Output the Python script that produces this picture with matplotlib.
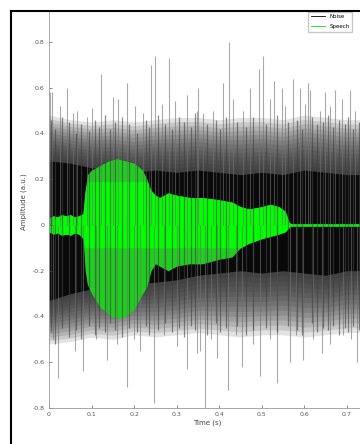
import numpy as np
import matplotlib
matplotlib.use("Agg")
import matplotlib.pyplot as plt
from matplotlib.lines import Line2D
from matplotlib.patches import Rectangle

# noise band envelopes (dense part of the black trace)
band_t = [0, .05, .1, .15, .2, .25, .3, .35, .4, .45, .5, .55, .6, .65, .7, .75]
core_hi = [.28, .27, .25, .24, .23, .24, .23, .24, .23, .22, .23, .22, .24, .23, .22, .22]
core_lo = [-.33, -.30, -.28, -.27, -.26, -.25, -.24, -.22, -.21, -.20, -.21, -.20, -.21, -.22, -.20, -.20]
outer_hi = [.48, .46, .45, .46, .45, .46, .47, .47, .46, .47, .47, .46, .48, .47, .46, .46]
outer_lo = [-.52, -.51, -.49, -.50, -.48, -.49, -.48, -.47, -.48, -.49, -.48, -.48, -.49, -.48, -.47, -.47]

# tall noise spikes
up_t = [.002, .007, .026, .042, .057, .066, .089, .101, .122, .150, .162, .183, .202, .221, .240,
        .249, .265, .282, .296, .324, .348, .350, .362, .385, .409, .423, .432, .456, .472, .493,
        .503, .519, .529, .547, .554, .573, .590, .601, .608, .613, .637, .648, .660, .672, .688,
        .707, .719]
up_a = [.58, .58, .52, .60, .49, .50, .47, .51, .66, .56, .55, .62, .52, .49, .70,
        .74, .53, .73, .54, .57, .50, .60, .49, .50, .62, .80, .55, .50, .60, .68,
        .74, .55, .63, .60, .52, .64, .60, .53, .62, .59, .50, .58, .52, .59, .55,
        .59, .50]
down_t = [.010, .021, .060, .080, .110, .136, .160, .183, .200, .214, .247, .270, .300, .324,
          .348, .355, .366, .380, .395, .420, .440, .453, .480, .496, .520, .536, .566, .580,
          .597, .620, .641, .660, .690, .710, .723]
down_a = [-.50, -.67, -.55, -.64, -.50, -.59, -.52, -.71, -.50, -.55, -.78, -.48, -.53, -.63,
          -.56, -.55, -.80, -.50, -.58, -.72, -.48, -.62, -.52, -.66, -.50, -.69, -.60, -.48,
          -.59, -.50, -.56, -.52, -.48, -.50, -.60]

# medium noise spikes (texture at the band edge)
mid_t = [.004, .015, .031, .047, .063, .075, .094, .108, .117, .131, .144, .156, .171, .189,
         .207, .228, .236, .256, .272, .288, .305, .318, .333, .342, .371, .392, .403, .416,
         .441, .463, .480, .509, .536, .561, .582, .595, .619, .629, .643, .655, .667, .681,
         .695, .702, .714, .728, .738]
mid_up = [.46, .42, .47, .45, .40, .44, .41, .46, .43, .48, .42, .45, .47, .44, .40, .46, .43,
          .48, .44, .42, .47, .45, .43, .49, .44, .46, .42, .47, .45, .43, .47, .44, .48, .45,
          .46, .42, .47, .44, .45, .48, .43, .46, .44, .47, .42, .45, .44]
mid_dn = [-.47, -.52, -.45, -.49, -.46, -.50, -.44, -.48, -.45, -.47, -.43, -.46, -.49, -.45,
          -.47, -.44, -.48, -.46, -.43, -.47, -.45, -.49, -.44, -.46, -.48, -.43, -.47, -.45,
          -.44, -.48, -.46, -.45, -.47, -.44, -.46, -.48, -.43, -.47, -.45, -.46, -.44, -.48,
          -.45, -.47, -.44, -.46, -.45]

# speech envelope
sp_t = [0, .01, .02, .03, .04, .05, .06, .07, .08, .085, .09, .1, .12, .14, .16, .18, .2, .22,
        .23, .24, .25, .26, .28, .3, .33, .36, .4, .43, .45, .47, .5, .52, .54, .555, .565, .57, .745]
sp_hi = [.03, .04, .035, .045, .04, .045, .035, .04, .05, .15, .22, .24, .26, .28, .29, .28, .27,
         .24, .2, .15, .13, .12, .14, .13, .12, .12, .11, .10, .08, .07, .08, .09, .08, .06, .01,
         .005, .005]
sp_lo = [-.03, -.04, -.035, -.045, -.04, -.045, -.035, -.04, -.06, -.2, -.26, -.3, -.36, -.39,
         -.41, -.4, -.37, -.3, -.27, -.2, -.17, -.18, -.2, -.18, -.17, -.17, -.15, -.14, -.1,
         -.08, -.06, -.05, -.04, -.03, -.01, -.005, -.005]

yticks = [-0.8, -0.6, -0.4, -0.2, 0, 0.2, 0.4, 0.6, 0.8]
ytick_labels = ["-0.8", "-0.6", "-0.4", "-0.2", "0", "0.2", "0.4", "0.6", "0.8"]
xticks = [0, 0.1, 0.2, 0.3, 0.4, 0.5, 0.6, 0.7]
xtick_labels = ["0", "0.1", "0.2", "0.3", "0.4", "0.5", "0.6", "0.7"]

fig = plt.figure(figsize=(3.6, 4.44), dpi=100)
ax = fig.add_axes([49 / 360, 36 / 444, 317 / 360, 413 / 444])

ax.vlines(up_t, 0, up_a, color="#707070", lw=0.8, alpha=0.6)
ax.vlines(down_t, 0, down_a, color="#707070", lw=0.8, alpha=0.6)
ax.vlines(mid_t, 0, mid_up, color="#404040", lw=0.9, alpha=0.6)
ax.vlines(mid_t, 0, mid_dn, color="#404040", lw=0.9, alpha=0.6)

# soft fade from the dense core out to the band edge
core_hi = np.array(core_hi)
core_lo = np.array(core_lo)
outer_hi = np.array(outer_hi)
outer_lo = np.array(outer_lo)
for f in np.linspace(0, 1, 14):
    ax.fill_between(band_t, core_lo + f * (outer_lo - core_lo), core_hi + f * (outer_hi - core_hi),
                    color="#202020", alpha=0.13, lw=0)
ax.fill_between(band_t, core_lo, core_hi, color="black", alpha=0.85, lw=0)

sp_hi = np.array(sp_hi)
sp_lo = np.array(sp_lo)
ax.fill_between(sp_t, sp_lo, sp_hi, color="#1fcf1f", lw=0)
ax.fill_between(sp_t, np.clip(sp_lo, -0.1, 0.19), np.clip(sp_hi, -0.1, 0.19), color="#00ff00", lw=0)

ax.set_xlim(0, 0.745)
ax.set_ylim(-0.8, 1.005)
ax.set_yticks(yticks)
ax.set_yticklabels(ytick_labels)
ax.set_xticks(xticks)
ax.set_xticklabels(xtick_labels)
ax.tick_params(direction="in", length=2, width=0.5, labelsize=4.5, colors="#555555", pad=3)
for s in ax.spines.values():
    s.set_color("#999999")
    s.set_linewidth(0.6)
ax.set_xlabel("Time (s)", fontsize=5, color="#444444", labelpad=2)
ax.set_ylabel("Amplitude (a.u.)", fontsize=5, color="#444444", labelpad=4)

handles = [Line2D([], [], color="black", lw=0.6), Line2D([], [], color="#00ee00", lw=0.6)]
fig.legend(handles, ["Noise", "Speech"], loc="lower right", bbox_to_anchor=(355 / 360, 1 - 35 / 444),
           fontsize=4, frameon=True, fancybox=False, edgecolor="#bbbbbb", handlelength=2.5,
           borderpad=0.5, labelspacing=0.9)

# crop frame
fig.add_artist(Rectangle((0, 1 - 11 / 444), 1, 11 / 444, transform=fig.transFigure,
                         facecolor="white", edgecolor="none", zorder=10))
fig.add_artist(Rectangle((0, 0), 11 / 360, 1, transform=fig.transFigure,
                         facecolor="white", edgecolor="none", zorder=10))
fig.add_artist(Line2D([11 / 360, 1], [1 - 11.5 / 444, 1 - 11.5 / 444], transform=fig.transFigure,
                      color="black", lw=1.5, zorder=11))
fig.add_artist(Line2D([11 / 360, 11 / 360], [0, 1 - 11.5 / 444], transform=fig.transFigure,
                      color="black", lw=1.5, zorder=11))

fig.savefig("out.png", dpi=100)
